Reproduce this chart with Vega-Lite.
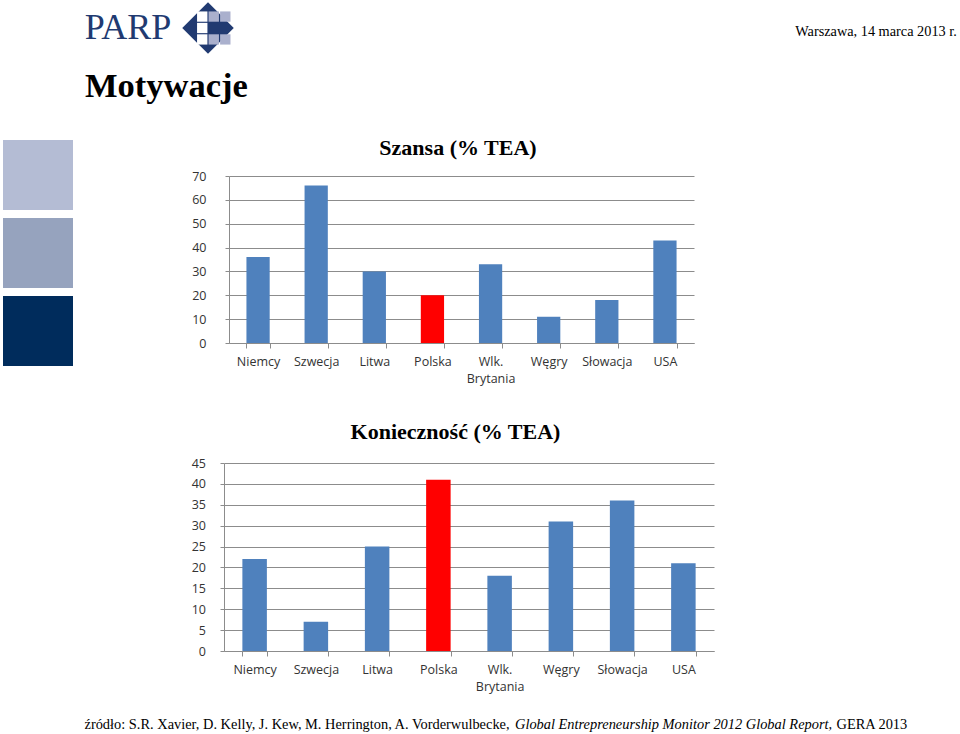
{
  "$schema": "https://vega.github.io/schema/vega-lite/v6.json",
  "padding": {"left": 3, "top": 0, "right": 0, "bottom": 0},
  "background": "white",
  "config": {"view": {"stroke": null}},
  "resolve": {"scale": {"color": "independent", "x": "independent", "y": "independent"}},
  "datasets": {
    "szansa": [
      {"kraj": "Niemcy", "v": 36},
      {"kraj": "Szwecja", "v": 66},
      {"kraj": "Litwa", "v": 30},
      {"kraj": "Polska", "v": 20},
      {"kraj": "Wlk. Brytania", "v": 33},
      {"kraj": "Węgry", "v": 11},
      {"kraj": "Słowacja", "v": 18},
      {"kraj": "USA", "v": 43}
    ],
    "koniecznosc": [
      {"kraj": "Niemcy", "v": 22},
      {"kraj": "Szwecja", "v": 7},
      {"kraj": "Litwa", "v": 25},
      {"kraj": "Polska", "v": 41},
      {"kraj": "Wlk. Brytania", "v": 18},
      {"kraj": "Węgry", "v": 31},
      {"kraj": "Słowacja", "v": 36},
      {"kraj": "USA", "v": 21}
    ],
    "squares": [{"s": "a"}, {"s": "b"}, {"s": "c"}],
    "empty": [],
    "logo": [{"t": "PARP"}],
    "logogrid": [
      {"c": "2", "r": "1", "k": "w"},
      {"c": "2", "r": "2", "k": "w"},
      {"c": "2", "r": "3", "k": "w"},
      {"c": "3", "r": "1", "k": "l"},
      {"c": "3", "r": "3", "k": "l"},
      {"c": "4", "r": "1", "k": "l"},
      {"c": "4", "r": "3", "k": "l"}
    ],
    "date": [{"t": "Warszawa, 14 marca 2013 r."}],
    "t1": [{"t": "Szansa (% TEA)"}],
    "t2": [{"t": "Konieczność (% TEA)"}]
  },
  "spacing": 12,
  "vconcat": [
    {
      "spacing": 0,
      "resolve": {"scale": {"color": "independent"}},
      "hconcat": [
        {"width": 79, "height": 56, "data": {"name": "empty"}, "mark": "point"},
        {
          "width": 92, "height": 56, "data": {"name": "logo"},
          "mark": {"type": "text", "font": "Liberation Serif", "fontSize": 36, "color": "#213a71", "baseline": "middle", "align": "center"},
          "encoding": {"text": {"field": "t"}}
        },
        {
          "width": 68, "height": 56,
          "layer": [
            {
              "data": {"name": "logo"},
              "mark": {"type": "point", "shape": "diamond", "filled": true, "size": 2650, "color": "#213a71", "opacity": 1}
            },
            {
              "data": {"name": "logogrid"},
              "mark": {"type": "rect"},
              "encoding": {
                "x": {"field": "c", "type": "nominal", "axis": null, "scale": {"domain": ["0", "1", "2", "3", "4", "5"], "paddingInner": 0.1, "paddingOuter": 0}},
                "y": {"field": "r", "type": "nominal", "axis": null, "scale": {"domain": ["0", "1", "2", "3", "4"], "paddingInner": 0.1, "paddingOuter": 0}},
                "color": {"field": "k", "type": "nominal", "legend": null, "scale": {"domain": ["w", "l"], "range": ["#ffffff", "#aab0cd"]}}
              }
            }
          ]
        },
        {"width": 551, "height": 56, "data": {"name": "empty"}, "mark": "point"},
        {
          "width": 166, "height": 56, "data": {"name": "date"},
          "mark": {"type": "text", "font": "Liberation Serif", "fontSize": 14.3, "color": "black", "baseline": "middle", "align": "center", "dy": 4},
          "encoding": {"text": {"field": "t"}}
        }
      ]
    },
    {
      "title": {"text": "Motywacje", "anchor": "start", "dx": 82, "font": "Liberation Serif", "fontSize": 34.5, "fontWeight": "bold", "color": "black", "baseline": "alphabetic", "offset": 6},
      "spacing": 117,
      "resolve": {"scale": {"color": "independent"}},
      "hconcat": [
        {
          "width": 70, "height": 226, "data": {"name": "squares"},
          "mark": {"type": "rect"},
          "encoding": {
            "y": {"field": "s", "type": "nominal", "axis": null, "scale": {"paddingInner": 0.1026, "paddingOuter": 0}},
            "color": {"field": "s", "type": "nominal", "legend": null, "scale": {"domain": ["a", "b", "c"], "range": ["#b4bcd4", "#96a3be", "#002c5c"]}}
          }
        },
        {
          "spacing": 6,
          "vconcat": [
            {
              "width": 536, "height": 24, "data": {"name": "t1"},
              "mark": {"type": "text", "font": "Liberation Serif", "fontSize": 22, "fontWeight": "bold", "color": "black", "baseline": "alphabetic", "align": "center", "dy": 3},
              "encoding": {"text": {"field": "t"}}
            },
            {
              "spacing": 0,
              "hconcat": [
                {"width": 1, "height": 167, "data": {"name": "empty"}, "mark": "point"},
                {
                  "width": 465, "height": 167, "data": {"name": "szansa"},
                  "mark": {"type": "bar"},
                  "encoding": {
                    "x": {"field": "kraj", "type": "nominal", "sort": null,
                      "scale": {"paddingInner": 0.6, "paddingOuter": 0.3},
                      "axis": {"title": null, "labelAngle": 0, "labelFont": "Open Sans", "labelFontSize": 12.5, "labelColor": "#333333", "labelExpr": "datum.value ? split(datum.value, ' ') : ''", "labelLineHeight": 17, "labelPadding": 7.5, "labelBaseline": "top", "tickBand": "extent", "tickSize": 5, "tickColor": "#8c8c8c", "domainColor": "#8c8c8c", "grid": false}},
                    "y": {"field": "v", "type": "quantitative",
                      "scale": {"domain": [0, 70], "nice": false},
                      "axis": {"title": null, "values": [0, 10, 20, 30, 40, 50, 60, 70], "grid": true, "gridColor": "#8c8c8c", "domainColor": "#8c8c8c", "tickColor": "#8c8c8c", "tickSize": 4, "labelPadding": 19, "labelFont": "Open Sans", "labelFontSize": 12.5, "labelColor": "#333333"}},
                    "color": {"condition": {"test": "datum.kraj === 'Polska'", "value": "#ff0000"}, "value": "#4f81bd"}
                  }
                }
              ]
            },
            {
              "width": 531, "height": 60, "data": {"name": "t2"},
              "mark": {"type": "text", "font": "Liberation Serif", "fontSize": 22, "fontWeight": "bold", "color": "black", "baseline": "alphabetic", "align": "center", "dy": 18},
              "encoding": {"text": {"field": "t"}}
            },
            {
              "spacing": 0,
              "hconcat": [
                {"width": 1, "height": 188, "data": {"name": "empty"}, "mark": "point"},
                {
                  "width": 490, "height": 188, "data": {"name": "koniecznosc"},
                  "mark": {"type": "bar"},
                  "encoding": {
                    "x": {"field": "kraj", "type": "nominal", "sort": null,
                      "scale": {"paddingInner": 0.6, "paddingOuter": 0.3},
                      "axis": {"title": null, "labelAngle": 0, "labelFont": "Open Sans", "labelFontSize": 12.5, "labelColor": "#333333", "labelExpr": "datum.value ? split(datum.value, ' ') : ''", "labelLineHeight": 17, "labelPadding": 7.5, "labelBaseline": "top", "tickBand": "extent", "tickSize": 5, "tickColor": "#8c8c8c", "domainColor": "#8c8c8c", "grid": false}},
                    "y": {"field": "v", "type": "quantitative",
                      "scale": {"domain": [0, 45], "nice": false},
                      "axis": {"title": null, "values": [0, 5, 10, 15, 20, 25, 30, 35, 40, 45], "grid": true, "gridColor": "#8c8c8c", "domainColor": "#8c8c8c", "tickColor": "#8c8c8c", "tickSize": 4, "labelPadding": 14.5, "labelFont": "Open Sans", "labelFontSize": 12.5, "labelColor": "#333333"}},
                    "color": {"condition": {"test": "datum.kraj === 'Polska'", "value": "#ff0000"}, "value": "#4f81bd"}
                  }
                }
              ]
            }
          ]
        }
      ]
    },
    {
      "spacing": 3.5,
      "hconcat": [
        {"width": 78, "height": 0, "data": {"name": "empty"}, "mark": "point"},
        {"width": 1, "height": 0, "data": {"name": "empty"}, "mark": "point",
          "title": {"text": "źródło: S.R. Xavier, D. Kelly, J. Kew, M. Herrington, A. Vorderwulbecke,", "orient": "bottom", "anchor": "start", "font": "Liberation Serif", "fontSize": 14.4, "fontWeight": "normal", "color": "black", "baseline": "top", "offset": -7}},
        {"width": 1, "height": 0, "data": {"name": "empty"}, "mark": "point",
          "title": {"text": "Global Entrepreneurship Monitor 2012 Global Report,", "orient": "bottom", "anchor": "start", "font": "Liberation Serif", "fontSize": 14.4, "fontStyle": "italic", "fontWeight": "normal", "color": "black", "baseline": "top", "offset": -7}},
        {"width": 1, "height": 0, "data": {"name": "empty"}, "mark": "point",
          "title": {"text": "GERA 2013", "orient": "bottom", "anchor": "start", "font": "Liberation Serif", "fontSize": 14.4, "fontWeight": "normal", "color": "black", "baseline": "top", "offset": -7}}
      ]
    }
  ]
}
